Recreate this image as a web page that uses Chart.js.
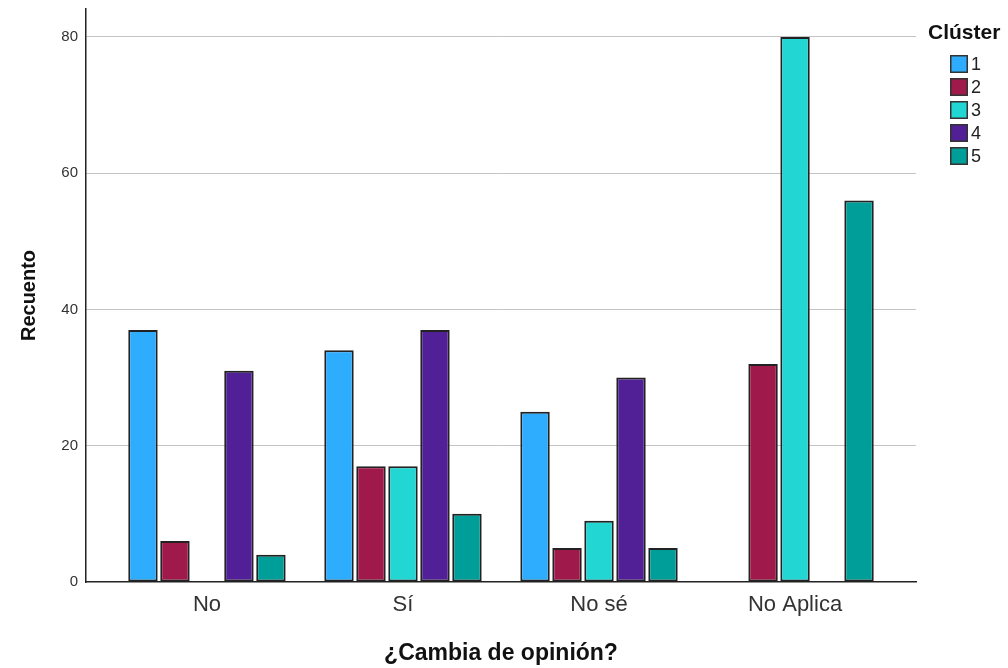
<!DOCTYPE html>
<html>
<head>
<meta charset="utf-8">
<script src="https://cdn.jsdelivr.net/npm/chart.js@4/dist/chart.umd.min.js"></script>
<style>
  html, body { margin: 0; padding: 0; background: #ffffff; }
  #wrap { position: relative; width: 1008px; height: 668px; }
</style>
</head>
<body>
<div id="wrap"><canvas id="c"></canvas></div>
<script>
const categories = ["No", "Sí", "No sé", "No Aplica"];
const clusterLabels = ["1", "2", "3", "4", "5"];
const cluster1 = [37, 34, 25, null];
const cluster2 = [6, 17, 5, 32];
const cluster3 = [null, 17, 9, 80];
const cluster4 = [31, 37, 30, null];
const cluster5 = [4, 10, 5, 56];
const yTicks = [0, 20, 40, 60, 80];
const colors = ["#2eacfe", "#a0194b", "#22d6d4", "#512096", "#009e99"];

const seriesList = [cluster1, cluster2, cluster3, cluster4, cluster5];
const FONT = "'Liberation Sans', Arial, sans-serif";

const datasets = seriesList.map((vals, k) => ({
  label: clusterLabels[k],
  data: vals.map((v, i) => ({ x: i, y: v })),
  backgroundColor: colors[k],
  borderColor: "#222222",
  borderWidth: 2,
  borderSkipped: false,
  categoryPercentage: 0.816,
  barPercentage: 0.92
}));

const legendPlugin = {
  id: "customLegend",
  afterDraw(chart) {
    const ctx = chart.ctx;
    const area = chart.chartArea;
    const x0 = area.right + 12;
    ctx.save();
    ctx.fillStyle = "#111";
    ctx.font = "bold 21px " + FONT;
    ctx.textAlign = "left";
    ctx.textBaseline = "middle";
    ctx.fillText("Clúster", x0, 33);
    ctx.font = "18px " + FONT;
    chart.data.datasets.forEach((ds, i) => {
      const by = 55 + i * 23;
      ctx.fillStyle = ds.backgroundColor;
      ctx.fillRect(x0 + 22, by, 18, 18);
      ctx.strokeStyle = "#333";
      ctx.lineWidth = 1.5;
      ctx.strokeRect(x0 + 22.75, by + 0.75, 16.5, 16.5);
      ctx.fillStyle = "#222";
      ctx.fillText(ds.label, x0 + 43, by + 10);
    });
    ctx.restore();
  }
};

new Chart(document.getElementById("c"), {
  type: "bar",
  data: { datasets },
  plugins: [legendPlugin],
  options: {
    responsive: true,
    maintainAspectRatio: false,
    animation: false,
    layout: { padding: { top: 9, right: 92, bottom: 0, left: 0 } },
    plugins: {
      legend: { display: false },
      tooltip: { enabled: false }
    },
    scales: {
      x: {
        type: "linear",
        position: "bottom",
        offset: false,
        min: -0.617,
        max: 3.617,
        grid: { display: false, drawTicks: false, offset: false },
        border: { display: true, color: "#222", width: 1.5 },
        afterBuildTicks: (scale) => { scale.ticks = categories.map((c, i) => ({ value: i })); },
        afterFit: (scale) => { scale.height = 86; scale.paddingLeft = 0; scale.paddingRight = 0; },
        ticks: {
          autoSkip: false,
          maxRotation: 0,
          padding: 10,
          color: "#333",
          font: { family: FONT, size: 22 },
          callback: (v) => categories[v]
        },
        title: {
          display: true,
          text: "¿Cambia de opinión?",
          color: "#111",
          font: { family: FONT, size: 23, weight: "bold" },
          padding: { top: 0, bottom: 1 }
        }
      },
      y: {
        min: 0,
        max: 84.1,
        grid: {
          drawTicks: false,
          color: (c) => (c.tick && c.tick.value === 0 ? "rgba(0,0,0,0)" : "#c4c4c4"),
          lineWidth: 1
        },
        border: { display: true, color: "#222", width: 1.5 },
        afterBuildTicks: (scale) => { scale.ticks = yTicks.map((v) => ({ value: v })); },
        afterFit: (scale) => { scale.width = 86; scale.paddingTop = 0; scale.paddingBottom = 0; },
        ticks: {
          padding: 8,
          color: "#333",
          font: { family: FONT, size: 15 }
        },
        title: {
          display: true,
          text: "Recuento",
          color: "#111",
          font: { family: FONT, size: 20, weight: "bold" },
          padding: { top: 17, bottom: 0 }
        }
      }
    }
  }
});
</script>
</body>
</html>
